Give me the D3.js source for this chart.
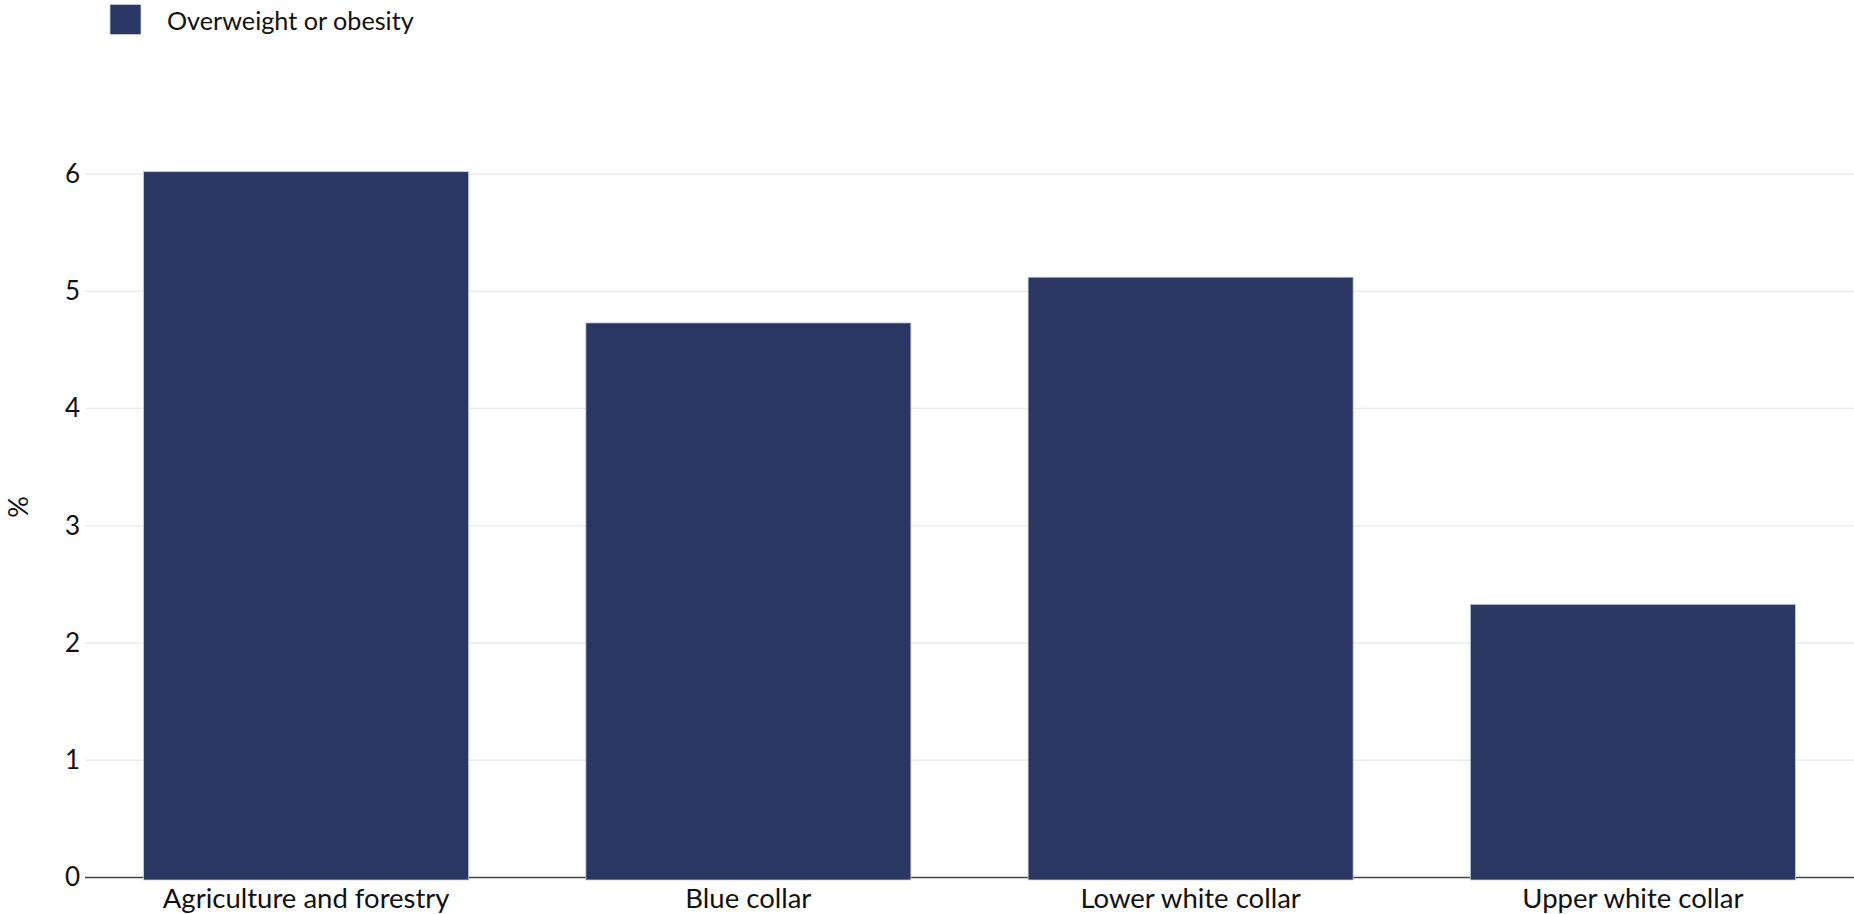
<!DOCTYPE html>
<html>
<head>
<meta charset="utf-8">
<script src="https://cdn.jsdelivr.net/npm/d3@7"></script>
<style>
  html, body { margin: 0; padding: 0; background: #fff; }
  svg { display: block; font-family: Lato, "Noto Sans", sans-serif; }
</style>
</head>
<body>
<svg id="chart" width="1854" height="914"></svg>
<script>
const categories = ["Agriculture and forestry", "Blue collar", "Lower white collar", "Upper white collar"];
const values = [6.02, 4.73, 5.12, 2.33];
const yTicks = [0, 1, 2, 3, 4, 5, 6];
const seriesName = "Overweight or obesity";
const yLabel = "%";

const W = 1854, H = 914;
const left = 85, right = 1854, zeroY = 877.5, sixY = 174;
const barColor = "#2b3763";

const svg = d3.select("#chart");

const x = d3.scaleBand().domain(categories).range([left, right])
  .paddingInner(0.265).paddingOuter(0.1325);
const y = d3.scaleLinear().domain([0, 6]).range([zeroY, sixY]);

// gridlines
svg.append("g").selectAll("line").data(yTicks.filter(d => d > 0)).join("line")
  .attr("x1", left).attr("x2", right)
  .attr("y1", d => y(d)).attr("y2", d => y(d))
  .attr("stroke", "#ebebeb").attr("stroke-width", 1.5);

// y axis tick labels
const yAxis = d3.axisLeft(y).tickValues(yTicks).tickSize(0).tickPadding(5).tickFormat(d3.format("d"));
const gy = svg.append("g").attr("transform", `translate(${left},0)`).call(yAxis);
gy.select(".domain").remove();
gy.selectAll("text").attr("font-size", 26).attr("fill", "#111").attr("font-family", "Lato, sans-serif");

// zero axis line
svg.append("line").attr("x1", left).attr("x2", right)
  .attr("y1", y(0)).attr("y2", y(0))
  .attr("stroke", "#444").attr("stroke-width", 1.5);

// bars
svg.append("g").selectAll("rect").data(categories).join("rect")
  .attr("x", d => x(d))
  .attr("width", x.bandwidth())
  .attr("y", (d, i) => y(values[i]))
  .attr("height", (d, i) => y(0) - y(values[i]) + 2.5)
  .attr("fill", barColor)
  .attr("stroke", "#c9cddb").attr("stroke-width", 0.8);

// x axis labels
const xAxis = d3.axisBottom(x).tickSize(0).tickPadding(0);
const gx = svg.append("g").attr("transform", `translate(0,${y(0)})`).call(xAxis);
gx.select(".domain").remove();
gx.selectAll("text").attr("font-size", 27.5).attr("fill", "#111")
  .attr("dy", null).attr("y", 30.5).attr("font-family", "Lato, sans-serif");

// y label
svg.append("text")
  .attr("transform", `translate(28,507) rotate(-90)`)
  .attr("text-anchor", "middle")
  .attr("font-size", 27).attr("fill", "#111")
  .text(yLabel);

// legend
svg.append("rect").attr("x", 110).attr("y", 4.5).attr("width", 31).attr("height", 30)
  .attr("fill", barColor).attr("stroke", "#c9cddb").attr("stroke-width", 0.8);
svg.append("text").attr("x", 167).attr("y", 29.5)
  .attr("font-size", 25.2).attr("fill", "#111").text(seriesName);
</script>
</body>
</html>
